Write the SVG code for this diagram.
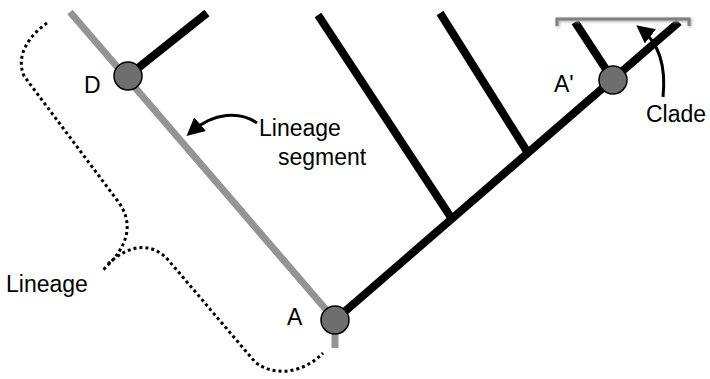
<svg xmlns="http://www.w3.org/2000/svg" width="710" height="379" viewBox="0 0 710 379">
<style>
.lbl{font-family:"Liberation Sans","Open Sans",sans-serif;font-size:23px;fill:#000}
.br{stroke:#000;stroke-width:8;fill:none}
.gr{stroke:#949494;stroke-width:7;fill:none}
.node{fill:#6e6e6e;stroke:#000;stroke-width:1.5}
.dot{stroke:#000;stroke-width:3;stroke-dasharray:3 3;fill:none}
.arr{stroke:#000;stroke-width:3;fill:none}
</style>
<defs>
<marker id="ah" markerWidth="6" markerHeight="6" refX="4" refY="3" orient="auto" markerUnits="strokeWidth">
<path d="M0,0 L6,3 L0,6 z" fill="#000"/>
</marker>
<filter id="sh" x="-10%" y="-50%" width="120%" height="300%">
<feGaussianBlur stdDeviation="1.5"/>
</filter>
</defs>
<g id="connectors">
<path id="lineage-seg" class="gr" d="M70,12 L335,320 L335,348"/>
<line class="br" x1="335" y1="320" x2="679" y2="22"/>
<line class="br" x1="128" y1="76" x2="207" y2="13"/>
<line class="br" x1="452" y1="219" x2="318" y2="15"/>
<line class="br" x1="528" y1="153" x2="440" y2="13"/>
<line class="br" x1="613" y1="80" x2="575" y2="22"/>
<path class="arr" d="M257,123 C240,111 214,112 191,132" marker-end="url(#ah)"/>
<path class="arr" d="M663,97 C666,68 660,44 641,29" marker-end="url(#ah)"/>
</g>
<g id="clade-bar">
<path d="M558,27 L558,20 L690,20 L690,27" stroke="#bbb" stroke-width="4" fill="none" filter="url(#sh)"/>
<path d="M557,26 L557,19 L689,19 L689,26" stroke="#808080" stroke-width="3" fill="none"/>
</g>
<g id="lineage-brace">
<path class="dot" d="M47,23 C30,35 15,55 24,76 L117,200 C134,222 130,245 103,270"/>
<path class="dot" d="M108,264 C128,245 152,240 170,262 L255,362 C275,378 305,372 323,353"/>
</g>
<g id="node-D"><circle class="node" cx="128" cy="76" r="14"/><text class="lbl" x="84" y="93">D</text></g>
<g id="node-A"><circle class="node" cx="335" cy="320" r="14"/><text class="lbl" x="287" y="325">A</text></g>
<g id="node-A2"><circle class="node" cx="613" cy="80" r="14"/><text class="lbl" x="554" y="92">A'</text></g>
<g id="labels">
<text class="lbl" x="259" y="136">Lineage</text>
<text class="lbl" x="278" y="165">segment</text>
<text class="lbl" x="646" y="122">Clade</text>
<text class="lbl" x="6" y="292">Lineage</text>
</g>
</svg>
